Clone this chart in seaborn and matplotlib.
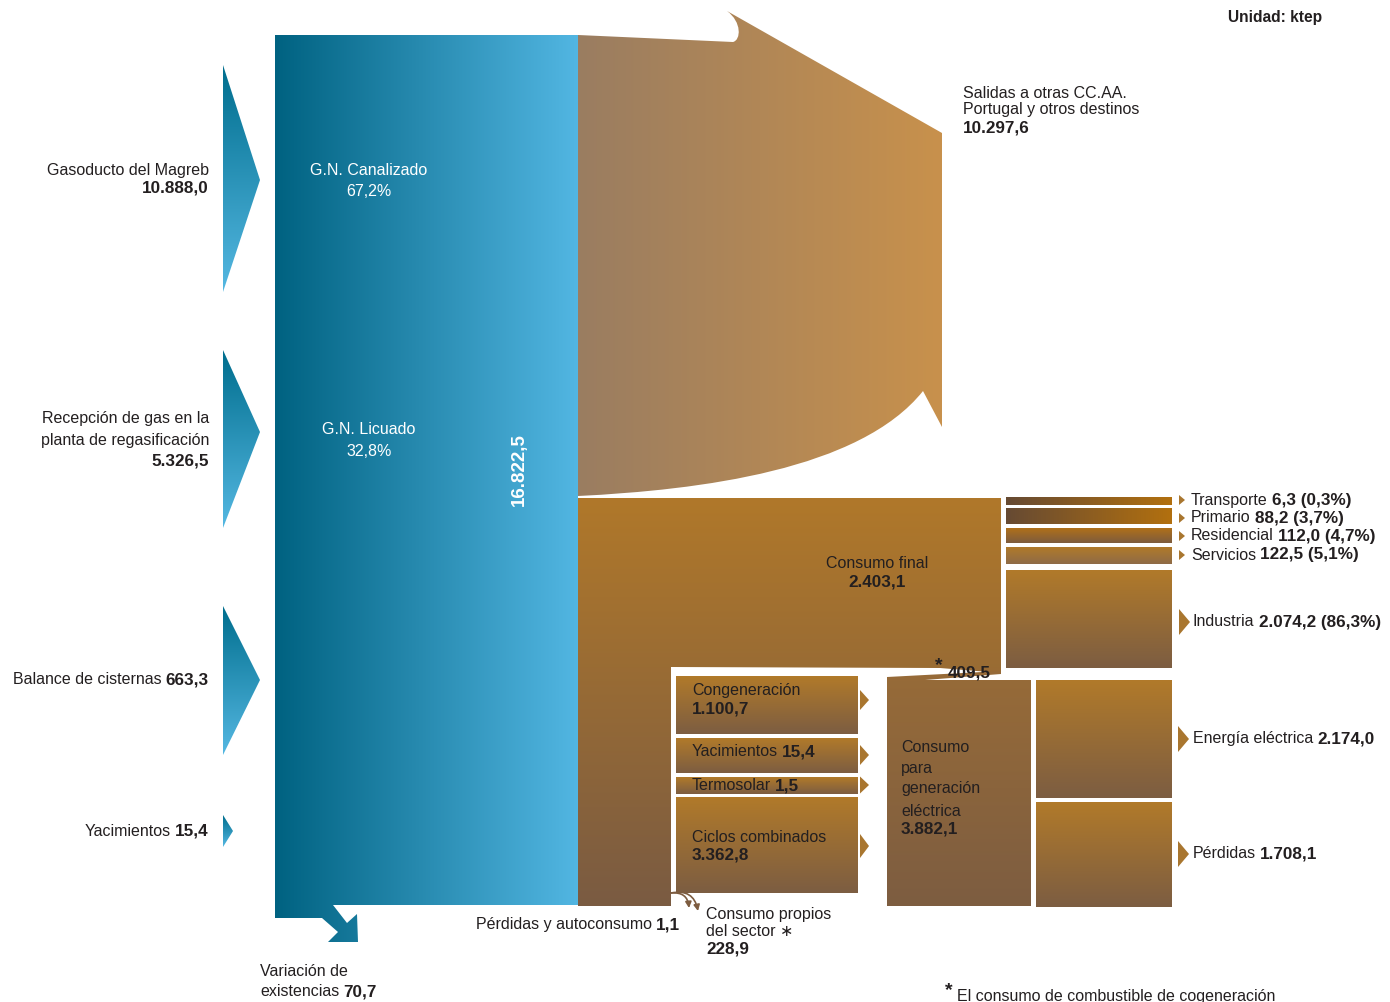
import numpy as np
import matplotlib
matplotlib.use("Agg")
import matplotlib.pyplot as plt
from matplotlib.path import Path
from matplotlib.patches import PathPatch, FancyArrowPatch
import seaborn as sns

# ---------------- data (ktep) ----------------
input_labels = ["Gasoducto del Magreb", "Recepción de gas en la\nplanta de regasificación",
                "Balance de cisternas", "Yacimientos"]
input_values = [10888.0, 5326.5, 663.3, 15.4]
total_supply = 16822.5
supply_types = ["G.N. Canalizado", "G.N. Licuado"]
supply_shares = [67.2, 32.8]
exports_label = ["Salidas a otras CC.AA.", "Portugal y otros destinos"]
exports_value = 10297.6
final_consumption = 2403.1
sector_labels = ["Transporte", "Primario", "Residencial", "Servicios", "Industria"]
sector_values = [6.3, 88.2, 112.0, 122.5, 2074.2]
sector_shares = [0.3, 3.7, 4.7, 5.1, 86.3]
gen_labels = ["Congeneración", "Yacimientos", "Termosolar", "Ciclos combinados"]
gen_values = [1100.7, 15.4, 1.5, 3362.8]
gen_total = 3882.1
cogen_transfer = 409.5
gen_out_labels = ["Energía eléctrica", "Pérdidas"]
gen_out_values = [2174.0, 1708.1]
own_use = 228.9
losses_selfuse = 1.1
stock_change = 70.7


def es(v, nd=1):
    s = f"{v:,.{nd}f}"
    return s.replace(",", "X").replace(".", ",").replace("X", ".")


# ---------------- style ----------------
sns.set_theme(style="white")
plt.rcParams["font.family"] = ["Liberation Sans", "DejaVu Sans"]
TXT = "#231F20"
FS = 11.5
FSB = 12.3

fig = plt.figure(figsize=(13.9, 10.02), dpi=100)
ax = fig.add_axes([0, 0, 1, 1])
ax.set_axis_off()


def poly_path(pts):
    return Path(list(pts) + [pts[0]], [Path.MOVETO] + [Path.LINETO] * (len(pts) - 1) + [Path.CLOSEPOLY])


def grad_fill(path, c0, c1, horizontal=True, z=2):
    cmap = sns.blend_palette([c0, c1], as_cmap=True)
    g = np.linspace(0, 1, 256)
    arr = g[None, :] if horizontal else g[:, None]
    ext = path.get_extents()
    x0, y0, x1, y1 = ext.x0, ext.y0, ext.x1, ext.y1
    patch = PathPatch(path, facecolor="none", edgecolor="none", zorder=z)
    ax.add_patch(patch)
    im = ax.imshow(arr, cmap=cmap, extent=(x0, x1, y1, y0), origin="upper",
                   aspect="auto", interpolation="bilinear", zorder=z)
    im.set_clip_path(patch)
    return im


def rect(x0, y0, x1, y1):
    return poly_path([(x0, y0), (x1, y0), (x1, y1), (x0, y1)])


def tri(x0, yc, w, h, color="#A9762F", z=3):
    ax.add_patch(PathPatch(poly_path([(x0, yc - h / 2), (x0 + w, yc), (x0, yc + h / 2)]),
                           facecolor=color, edgecolor="none", zorder=z))


def _sz(w):
    return FSB if w == "bold" else FS


def mixed(x, y, parts, ha="left", color=TXT, gap=3.0):
    if ha == "left":
        t = ax.text(x, y, parts[0][0], ha="left", va="center", fontsize=_sz(parts[0][1]),
                    fontweight=parts[0][1], color=color, zorder=6)
        for s, w in parts[1:]:
            t = ax.annotate(s, xy=(1, 0), xycoords=t, xytext=(gap, 0), textcoords="offset points",
                            ha="left", va="bottom", fontsize=_sz(w), fontweight=w, color=color, zorder=6)
    else:
        t = ax.text(x, y, parts[-1][0], ha="right", va="center", fontsize=_sz(parts[-1][1]),
                    fontweight=parts[-1][1], color=color, zorder=6)
        for s, w in reversed(parts[:-1]):
            t = ax.annotate(s, xy=(0, 0), xycoords=t, xytext=(-gap, 0), textcoords="offset points",
                            ha="right", va="bottom", fontsize=_sz(w), fontweight=w, color=color, zorder=6)


def txt(x, y, s, ha="left", weight="normal", size=None, color=TXT, **kw):
    if size is None:
        size = _sz(weight)
    ax.text(x, y, s, ha=ha, va="center", fontsize=size, fontweight=weight, color=color, zorder=6, **kw)


# ---------------- input arrows ----------------
tri_geo = [(65, 180, 292, 260), (350, 432, 528, 260), (606, 680, 755, 260), (815, 831, 847, 233)]
for (yt, yc, yb, xt) in tri_geo:
    grad_fill(poly_path([(223, yt), (xt, yc), (223, yb)]), "#006E8E", "#55B8E2", horizontal=False)

# ---------------- main blue block ----------------
blue = poly_path([(275, 35), (578, 35), (578, 905), (333, 905), (347, 923), (357, 914),
                  (358, 942), (328, 942), (338, 932), (322, 918), (275, 918)])
grad_fill(blue, "#006281", "#52B6E2", horizontal=True)

# ---------------- exports shape ----------------
sal_verts = [(578, 35), (733, 42), (741, 40), (742, 22), (727, 11), (942, 133), (942, 427),
             (923, 391), (860, 470), (700, 490), (578, 496), (578, 35)]
sal_codes = [Path.MOVETO, Path.LINETO, Path.CURVE4, Path.CURVE4, Path.CURVE4, Path.LINETO,
             Path.LINETO, Path.LINETO, Path.CURVE4, Path.CURVE4, Path.CURVE4, Path.CLOSEPOLY]
grad_fill(Path(sal_verts, sal_codes), "#9A7D61", "#C8914C", horizontal=True)

# ---------------- consumption block ----------------
cons = poly_path([(578, 498), (1001, 498), (1001, 673), (940, 668), (671, 667), (671, 906), (578, 906)])
grad_fill(cons, "#B0782A", "#7A5B42", horizontal=False)

gen = poly_path([(887, 906), (887, 677), (1001, 671), (1001, 674), (925, 680), (1031, 680), (1031, 906)])
grad_fill(gen, "#976B38", "#7D5D41", horizontal=False)

# generation input boxes
gen_boxes = [(676, 734), (738, 773), (777, 794), (797, 893)]
for (y0, y1) in gen_boxes:
    grad_fill(rect(676, y0, 858, y1), "#B17A2A", "#7C5D42", horizontal=False)
gen_tris = [(700, 20), (755, 20), (785, 17), (846, 24)]
for (yc, h) in gen_tris:
    tri(860, yc, 9, h)

# final sectors boxes
sector_boxes = [(497, 505), (508, 524), (528, 543), (547, 564), (570, 668)]
sector_cols = [("#664A33", "#B2700F", True), ("#664A33", "#B2700F", True),
               ("#B0701A", "#7D5C3E", False), ("#B07A2A", "#8F6B47", False),
               ("#B17A2A", "#7C5D42", False)]
for (y0, y1), (c0, c1, hz) in zip(sector_boxes, sector_cols):
    grad_fill(rect(1006, y0, 1172, y1), c0, c1, horizontal=hz)
sector_tris = [(500, 6, 10), (518, 6, 10), (536, 6, 10), (555, 6, 10), (622, 11, 26)]
for (yc, w, h) in sector_tris:
    tri(1179, yc, w, h)

# generation outputs
out_boxes = [(680, 798), (802, 907)]
for (y0, y1) in out_boxes:
    grad_fill(rect(1036, y0, 1172, y1), "#B17A2A", "#7C5D42", horizontal=False)
for yc in [739, 854]:
    tri(1178, yc, 11, 26)

# own-use curved arrows
for end in [(698, 911), (689, 908)]:
    ax.add_patch(FancyArrowPatch((671, 893), end, connectionstyle="arc3,rad=-0.5",
                                 arrowstyle="-|>,head_length=3.5,head_width=1.8",
                                 color="#7D5C40", lw=1.2, zorder=5, shrinkA=0, shrinkB=0))

# ---------------- texts ----------------
# inputs
txt(209, 170, input_labels[0], ha="right")
txt(209, 188, es(input_values[0]), ha="right", weight="bold")
l1, l2 = input_labels[1].split("\n")
txt(209, 419, l1, ha="right")
txt(209, 440, l2, ha="right")
txt(209, 461, es(input_values[1]), ha="right", weight="bold")
mixed(209, 680, [(input_labels[2], "normal"), (es(input_values[2]), "bold")], ha="right")
mixed(209, 831, [(input_labels[3], "normal"), (es(input_values[3]), "bold")], ha="right")

# blue block
txt(369, 170, supply_types[0], ha="center", color="white")
txt(369, 191, f"{es(supply_shares[0])}%", ha="center", color="white")
txt(369, 430, supply_types[1], ha="center", color="white")
txt(369, 451, f"{es(supply_shares[1])}%", ha="center", color="white")
txt(519, 470, es(total_supply), ha="center", weight="bold", color="white", size=13.5, rotation=90)

# exports
txt(963, 93, exports_label[0])
txt(963, 109, exports_label[1])
txt(963, 128, es(exports_value), weight="bold")
txt(1228, 17, "Unidad: ktep", weight="bold", size=11.2)

# final consumption
txt(877, 564, "Consumo final", ha="center")
txt(877, 582, es(final_consumption), ha="center", weight="bold")
txt(939, 666, "*", ha="center", weight="bold", size=14)
txt(948, 673, es(cogen_transfer), weight="bold")

for i in range(4):
    mixed(1191, [500, 518, 536, 555][i],
          [(sector_labels[i], "normal"), (f"{es(sector_values[i])} ({es(sector_shares[i])}%)", "bold")])
mixed(1193, 622, [(sector_labels[4], "normal"), (f"{es(sector_values[4])} ({es(sector_shares[4])}%)", "bold")])

# generation inputs
txt(692, 690, gen_labels[0])
txt(692, 709, es(gen_values[0]), weight="bold")
mixed(692, 752, [(gen_labels[1], "normal"), (es(gen_values[1]), "bold")])
mixed(692, 786, [(gen_labels[2], "normal"), (es(gen_values[2]), "bold")])
txt(692, 837, gen_labels[3])
txt(692, 855, es(gen_values[3]), weight="bold")

# generation block
for s, y in zip(["Consumo", "para", "generación", "eléctrica"], [747, 768, 789, 811]):
    txt(901, y, s)
txt(901, 829, es(gen_total), weight="bold")
mixed(1193, 739, [(gen_out_labels[0], "normal"), (es(gen_out_values[0]), "bold")])
mixed(1193, 854, [(gen_out_labels[1], "normal"), (es(gen_out_values[1]), "bold")])

# bottom
mixed(680, 925, [("Pérdidas y autoconsumo", "normal"), (es(losses_selfuse), "bold")], ha="right")
txt(706, 914, "Consumo propios")
txt(706, 931, "del sector \u2217")
txt(706, 949, es(own_use), weight="bold")
txt(260, 971, "Variación de")
mixed(260, 992, [("existencias", "normal"), (es(stock_change), "bold")])
txt(949, 991, "*", ha="center", weight="bold", size=14)
txt(957, 996, "El consumo de combustible de cogeneración")

ax.set_xlim(0, 1390)
ax.set_ylim(1002, 0)
fig.savefig("out.png", dpi=100)
